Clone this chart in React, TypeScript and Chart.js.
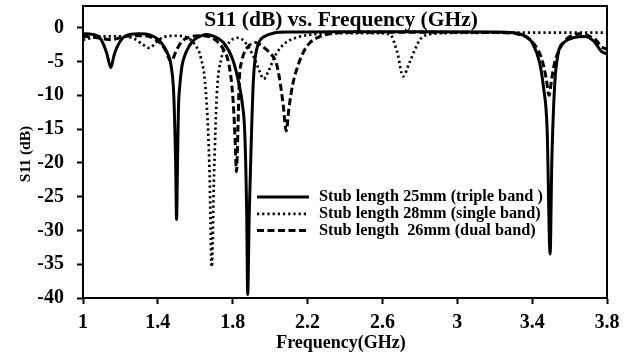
import React, { useEffect, useRef } from "react";
import { Chart, registerables } from "chart.js";

Chart.register(...registerables);

// S11 response of the three stub lengths (frequency in GHz, S11 in dB)
const tripleFreq = [1.0, 1.05, 1.09, 1.11, 1.127, 1.149, 1.165, 1.18, 1.213, 1.25, 1.3, 1.36, 1.4, 1.42, 1.45, 1.47, 1.485, 1.495, 1.5, 1.505, 1.51, 1.517, 1.53, 1.55, 1.58, 1.61, 1.66, 1.7, 1.75, 1.8, 1.835, 1.85, 1.865, 1.875, 1.88, 1.888, 1.9, 1.91, 1.92, 1.94, 1.97, 2.02, 2.1, 2.4, 2.8, 3.2, 3.3, 3.36, 3.4, 3.44, 3.46, 3.48, 3.496, 3.505, 3.52, 3.54, 3.57, 3.62, 3.68, 3.73, 3.77, 3.8];
const tripleS11 = [-0.9, -1.0, -1.5, -2.5, -3.8, -5.9, -4.2, -3.0, -1.5, -1.0, -0.9, -1.1, -1.7, -2.3, -3.7, -5.5, -10, -20, -28.4, -20, -12, -8.7, -5.5, -3.7, -2.2, -1.5, -1.0, -1.3, -2.2, -4.7, -8.5, -11, -16, -28, -39.5, -28, -16, -8, -4.5, -2.2, -1.3, -0.8, -0.65, -0.6, -0.6, -0.65, -0.75, -1.2, -2.2, -5.2, -8.7, -15, -33.5, -20, -8.7, -3.7, -2.2, -1.5, -1.3, -2.0, -3.5, -3.9];

const singleFreq = [1.0, 1.05, 1.1, 1.2, 1.27, 1.32, 1.355, 1.39, 1.43, 1.5, 1.56, 1.6, 1.63, 1.655, 1.675, 1.688, 1.7, 1.715, 1.74, 1.78, 1.83, 1.87, 1.91, 1.94, 1.965, 1.99, 2.03, 2.08, 2.15, 2.25, 2.4, 2.58, 2.64, 2.68, 2.71, 2.744, 2.8, 2.85, 2.95, 3.4, 3.8];
const singleS11 = [-1.8, -1.5, -1.3, -1.3, -1.6, -2.5, -3.0, -2.2, -1.4, -1.2, -1.5, -2.6, -4.5, -9, -20, -35.4, -22, -10, -4.5, -2.2, -1.5, -2.3, -4.2, -6.2, -7.6, -6.5, -4.0, -2.3, -1.4, -0.95, -0.8, -0.8, -1.0, -3.7, -7.2, -5.2, -1.8, -1.0, -0.8, -0.75, -0.75];

const dualFreq = [1.0, 1.05, 1.1, 1.15, 1.2, 1.26, 1.32, 1.37, 1.41, 1.44, 1.47, 1.5, 1.53, 1.57, 1.62, 1.67, 1.71, 1.75, 1.78, 1.8, 1.812, 1.82, 1.828, 1.835, 1.85, 1.86, 1.89, 1.92, 1.96, 2.0, 2.03, 2.05, 2.07, 2.086, 2.1, 2.12, 2.15, 2.18, 2.21, 2.26, 2.32, 2.45, 3.0, 3.25, 3.32, 3.38, 3.42, 3.45, 3.475, 3.49, 3.505, 3.52, 3.545, 3.58, 3.63, 3.66, 3.7, 3.74, 3.77, 3.8];
const dualS11 = [-1.3, -1.4, -1.6, -1.8, -1.5, -1.2, -1.2, -1.5, -2.2, -3.3, -5.0, -3.3, -2.0, -1.4, -1.2, -1.3, -1.9, -3.2, -5.5, -10, -16, -21.3, -15, -8, -4.8, -3.8, -2.6, -2.2, -2.8, -3.8, -5, -7.5, -11.5, -15.3, -12, -8.5, -5.5, -3.5, -2.3, -1.4, -0.9, -0.7, -0.7, -0.75, -0.95, -1.6, -2.8, -4.5, -7.5, -10, -7.5, -5.2, -3.3, -1.8, -1.0, -0.9, -1.2, -1.8, -2.8, -3.2];

const seriesLabels = [
  "Stub length 25mm (triple band )",
  "Stub length 28mm (single band)",
  "Stub length  26mm (dual band)",
];

const xTicks = [1, 1.4, 1.8, 2.2, 2.6, 3, 3.4, 3.8];
const yTicks = [0, -5, -10, -15, -20, -25, -30, -35, -40];

const chartTitle = "S11 (dB) vs. Frequency (GHz)";
const xTitle = "Frequency(GHz)";
const yTitle = "S11 (dB)";

const SERIF = '"Liberation Serif", "Times New Roman", serif';

const toPoints = (xs: number[], ys: number[]) => xs.map((x, i) => ({ x, y: ys[i] }));

const decorations = {
  id: "decorations",
  afterDatasetsDraw(chart: any) {
    const { ctx, chartArea } = chart;
    ctx.save();
    // plot frame
    ctx.strokeStyle = "#000";
    ctx.lineWidth = 2;
    ctx.setLineDash([]);
    ctx.strokeRect(chartArea.left, chartArea.top, chartArea.right - chartArea.left, chartArea.bottom - chartArea.top);

    ctx.fillStyle = "#000";
    // title inside the frame
    ctx.font = `bold 21.5px ${SERIF}`;
    ctx.textAlign = "center";
    ctx.textBaseline = "alphabetic";
    ctx.fillText(chartTitle, 341, 26);

    // x axis title
    ctx.font = `bold 18px ${SERIF}`;
    ctx.fillText(xTitle, 341, 348);

    // y axis title
    ctx.save();
    ctx.translate(30, 154);
    ctx.rotate(-Math.PI / 2);
    ctx.font = `bold 15.5px ${SERIF}`;
    ctx.textBaseline = "alphabetic";
    ctx.fillText(yTitle, 0, 0);
    ctx.restore();

    // legend
    chart.data.datasets.forEach((ds: any, i: number) => {
      const y = 197 + i * 16.8;
      ctx.beginPath();
      ctx.strokeStyle = "#000";
      ctx.lineWidth = ds.borderWidth;
      ctx.setLineDash(ds.borderDash || []);
      ctx.moveTo(257, y);
      ctx.lineTo(309, y);
      ctx.stroke();
      ctx.setLineDash([]);
      ctx.font = `bold 16.3px ${SERIF}`;
      ctx.textAlign = "left";
      ctx.textBaseline = "middle";
      ctx.fillText(ds.label, 319, y);
    });
    ctx.restore();
  },
};

export default function App() {
  const canvasRef = useRef<HTMLCanvasElement | null>(null);

  useEffect(() => {
    document.body.style.margin = "0";
    const canvas = canvasRef.current;
    if (!canvas) return;

    const chart = new Chart(canvas, {
      type: "line",
      data: {
        datasets: [
          {
            label: seriesLabels[0],
            data: toPoints(tripleFreq, tripleS11),
            borderColor: "#000",
            borderWidth: 3,
            borderDash: [],
          },
          {
            label: seriesLabels[1],
            data: toPoints(singleFreq, singleS11),
            borderColor: "#000",
            borderWidth: 2.7,
            borderDash: [2.2, 3],
          },
          {
            label: seriesLabels[2],
            data: toPoints(dualFreq, dualS11),
            borderColor: "#000",
            borderWidth: 3,
            borderDash: [7, 3.5],
          },
        ],
      },
      options: {
        animation: false,
        responsive: false,
        devicePixelRatio: 1,
        layout: { padding: { top: 6, right: 20, left: 0, bottom: 0 } },
        elements: {
          point: { radius: 0, hoverRadius: 0 },
          line: { cubicInterpolationMode: "monotone", fill: false, borderJoinStyle: "round" },
        },
        plugins: {
          legend: { display: false },
          title: { display: false },
          tooltip: { enabled: false },
        },
        scales: {
          x: {
            type: "linear",
            min: 1,
            max: 3.8,
            afterBuildTicks: (s: any) => {
              s.ticks = xTicks.map((v) => ({ value: v }));
            },
            afterFit: (s: any) => {
              s.height = 59;
              s.paddingLeft = 0;
              s.paddingRight = 0;
            },
            ticks: {
              color: "#000",
              font: { family: SERIF, size: 20, weight: "bold" },
              padding: 7,
              maxRotation: 0,
              autoSkip: false,
              callback: (v: any) => String(Math.round(Number(v) * 10) / 10),
            },
            grid: {
              drawOnChartArea: false,
              drawTicks: true,
              tickLength: 6,
              tickColor: "#000",
              tickWidth: 2,
            },
            border: { display: true, color: "#000", width: 2 },
          },
          y: {
            type: "linear",
            min: -40,
            max: 3.2,
            afterBuildTicks: (s: any) => {
              s.ticks = yTicks.map((v) => ({ value: v }));
            },
            afterFit: (s: any) => {
              s.width = 83;
              s.paddingTop = 0;
              s.paddingBottom = 0;
            },
            ticks: {
              color: "#000",
              font: { family: SERIF, size: 20, weight: "bold" },
              padding: 13,
              autoSkip: false,
            },
            grid: {
              drawOnChartArea: false,
              drawTicks: true,
              tickLength: 6,
              tickColor: "#000",
              tickWidth: 2,
            },
            border: { display: true, color: "#000", width: 2 },
          },
        },
      },
      plugins: [decorations],
    } as any);

    return () => chart.destroy();
  }, []);

  return (
    <div style={{ width: 627, height: 357, background: "#fff" }}>
      <canvas ref={canvasRef} width={627} height={357} />
    </div>
  );
}
